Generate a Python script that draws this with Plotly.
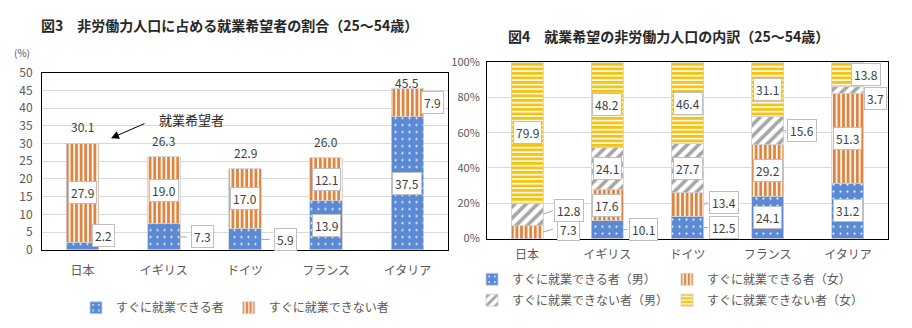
import plotly.graph_objects as go

# ---------------- data ----------------
countries = ["日本", "イギリス", "ドイツ", "フランス", "イタリア"]

# 図3 (%)
f3_able = [2.2, 7.3, 5.9, 13.9, 37.5]
f3_unable = [27.9, 19.0, 17.0, 12.1, 7.9]
f3_total = [30.1, 26.3, 22.9, 26.0, 45.5]

# 図4 (%)
f4_able_m = [0.0, 10.1, 12.5, 24.1, 31.2]
f4_able_f = [7.3, 17.6, 13.4, 29.2, 51.3]
f4_unable_m = [12.8, 24.1, 27.7, 15.6, 3.7]
f4_unable_f = [79.9, 48.2, 46.4, 31.1, 13.8]

y3_ticks = list(range(0, 51, 5))
y4_ticks = [0, 20, 40, 60, 80, 100]
y4_ticktext = ["0%", "20%", "40%", "60%", "80%", "100%"]

f3_names = ["すぐに就業できる者", "すぐに就業できない者"]
f4_names = ["すぐに就業できる者（男）", "すぐに就業できる者（女）",
            "すぐに就業できない者（男）", "すぐに就業できない者（女）"]

title3 = "図3　非労働力人口に占める就業希望者の割合（25～54歳）"
title4 = "図4　就業希望の非労働力人口の内訳（25～54歳）"
note3 = "就業希望者"

# ---------------- styles ----------------
FONT = "Noto Sans CJK JP"
TXT = "#404040"
TICK = "#595959"
GRID = "#D9D9D9"
BLUE = "#5B89D3"
ORANGE = "#DD8547"
ORANGE_BG = "#FFF6EA"
GRAY = "#A6A6A6"
YELLOW = "#F2C318"
YELLOW_BG = "#FFF8DA"
EDGE = "#D0D0D0"
BARGAP = 0.6
HALF = (1 - BARGAP) / 2

styles = {
    "blue": dict(color=BLUE, pattern=dict(shape=".", fgcolor="white", bgcolor=BLUE,
                                          size=7, solidity=0.07, fillmode="replace")),
    "orange": dict(color=ORANGE_BG, pattern=dict(shape="|", fgcolor=ORANGE, bgcolor=ORANGE_BG,
                                                 size=4.6, solidity=0.6, fillmode="replace")),
    "gray": dict(color="white", pattern=dict(shape="/", fgcolor=GRAY, bgcolor="white",
                                             size=8, solidity=0.45, fillmode="replace")),
    "yellow": dict(color=YELLOW_BG, pattern=dict(shape="-", fgcolor=YELLOW, bgcolor=YELLOW_BG,
                                                 size=4.5, solidity=0.6, fillmode="replace")),
}

xs = list(range(len(countries)))

fig = go.Figure()

# ---------- Fig 3 bars ----------
for name, vals, st in [(f3_names[0], f3_able, "blue"), (f3_names[1], f3_unable, "orange")]:
    fig.add_trace(go.Bar(
        x=xs, y=vals, name=name, xaxis="x", yaxis="y", legend="legend",
        marker=dict(**styles[st], line=dict(color=EDGE, width=0.8)),
        hoverinfo="skip",
    ))

# ---------- Fig 4 bars ----------
f4_series = [f4_able_m, f4_able_f, f4_unable_m, f4_unable_f]
f4_styles = ["blue", "orange", "gray", "yellow"]
f4_legends = ["legend2", "legend2", "legend3", "legend3"]
for name, vals, st, lg in zip(f4_names, f4_series, f4_styles, f4_legends):
    fig.add_trace(go.Bar(
        x=xs, y=vals, name=name, xaxis="x2", yaxis="y2", legend=lg,
        marker=dict(**styles[st], line=dict(color=EDGE, width=0.8)),
        hoverinfo="skip",
    ))

annotations = []
shapes = []


def box_label(xref, yref, x, y, text, yshift=0):
    annotations.append(dict(
        x=x, y=y, xref=xref, yref=yref, text=text, showarrow=False, yshift=yshift,
        xanchor="center", yanchor="middle",
        font=dict(family=FONT, size=12, color=TXT),
        bgcolor="white", bordercolor="#BFBFBF", borderwidth=1, borderpad=2,
    ))


# label placement for labels placed beside the bar: (dx in category units, yshift px, leader line)
place3 = {(0, 0): (0.26, 10, False), (0, 1): (0.48, 0, True), (0, 2): (0.50, 0, True),
          (1, 4): (0.31, 0, False)}
place4 = {(1, 0): (0.52, 3, True), (2, 0): (0.52, 4, True), (0, 1): (0.45, 0, True),
          (1, 2): (0.45, 2, True), (0, 2): (0.45, 0, True), (2, 3): (0.43, 0, True),
          (3, 4): (0.23, 0, False), (2, 4): (0.35, -9, False)}


def add_labels(series, xref, yref, place, px_x, px_y):
    for i in xs:
        base = 0.0
        for s, vals in enumerate(series):
            v = vals[i]
            if v > 0:
                mid = base + v / 2
                if (s, i) in place:
                    dx, dy, leader = place[(s, i)]
                    box_label(xref, yref, i + dx, mid, f"{v:.1f}", yshift=dy)
                    if leader:
                        shapes.append(dict(
                            type="line", xref=xref, yref=yref, layer="above",
                            x0=i + HALF, y0=mid, x1=i + dx - 16 / px_x, y1=mid + dy / px_y,
                            line=dict(color="#A6A6A6", width=1)))
                else:
                    box_label(xref, yref, i, mid, f"{v:.1f}")
            base += v


add_labels([f3_able, f3_unable], "x", "y", place3, 81.2, 3.74)
add_labels(f4_series, "x2", "y2", place4, 80.2, 1.86)

# totals above bars (fig 3)
for i, t in zip(xs, f3_total):
    annotations.append(dict(x=i, y=min(t + 4.6, 47.3), xref="x", yref="y", text=f"{t:.1f}",
                            showarrow=False, xanchor="center", yanchor="middle",
                            font=dict(family=FONT, size=12, color=TXT)))

# note + arrow
annotations.append(dict(x=1.335, y=36.9, xref="x", yref="y", text=note3, showarrow=False,
                        xanchor="center", yanchor="middle",
                        font=dict(family=FONT, size=13, color="#262626")))
annotations.append(dict(x=0.35, y=31.5, xref="x", yref="y", ax=0.78, ay=35.8,
                        axref="x", ayref="y", text="", showarrow=True,
                        arrowhead=2, arrowsize=1.6, arrowwidth=1, arrowcolor="black"))

# titles and unit
annotations.append(dict(x=229.5 / 912, y=1 - 16 / 328, xref="paper", yref="paper", text=f"<b>{title3}</b>",
                        showarrow=False, xanchor="center", yanchor="middle",
                        font=dict(family=FONT, size=14, color="#262626")))
annotations.append(dict(x=668 / 912, y=1 - 27 / 328, xref="paper", yref="paper", text=f"<b>{title4}</b>",
                        showarrow=False, xanchor="center", yanchor="middle",
                        font=dict(family=FONT, size=14, color="#262626")))
annotations.append(dict(x=22 / 912, y=1 - 45 / 328, xref="paper", yref="paper", text="(%)",
                        showarrow=False, xanchor="center", yanchor="middle",
                        font=dict(family=FONT, size=10, color=TICK)))

axis_common = dict(showline=True, linecolor="black", linewidth=1, mirror=True,
                   ticks="", fixedrange=True)

fig.update_layout(
    width=912, height=328,
    margin=dict(l=0, r=0, t=0, b=0),
    paper_bgcolor="white", plot_bgcolor="white",
    barmode="stack", bargap=BARGAP,
    font=dict(family=FONT, color=TICK),
    xaxis=dict(domain=[42 / 912, 448 / 912], range=[-0.5, 4.5], tickvals=xs, ticktext=countries,
               showgrid=False, tickfont=dict(size=12, color=TICK), ticklabelstandoff=10,
               anchor="y", **axis_common),
    yaxis=dict(domain=[75 / 328, 262 / 328], range=[0, 50], tickvals=y3_ticks,
               showgrid=True, gridcolor=GRID, tickfont=dict(size=12, color=TICK),
               ticklabelstandoff=6, anchor="x", **axis_common),
    xaxis2=dict(domain=[487 / 912, 888 / 912], range=[-0.5, 4.5], tickvals=xs, ticktext=countries,
                showgrid=False, tickfont=dict(size=12, color=TICK), ticklabelstandoff=5,
                anchor="y2", **axis_common),
    yaxis2=dict(domain=[87 / 328, 273 / 328], range=[0, 100], tickvals=y4_ticks, ticktext=y4_ticktext,
                showgrid=True, gridcolor=GRID, tickfont=dict(size=11, color=TICK),
                ticklabelstandoff=4, anchor="x2", **axis_common),
    legend=dict(orientation="h", x=235 / 912, xanchor="center", y=1 - 314 / 328, yanchor="middle",
                font=dict(family=FONT, size=12, color=TICK), bgcolor="rgba(0,0,0,0)",
                traceorder="normal"),
    legend2=dict(orientation="h", x=472 / 912, xanchor="left", y=1 - 284 / 328, yanchor="middle",
                 font=dict(family=FONT, size=12, color=TICK), bgcolor="rgba(0,0,0,0)",
                 entrywidth=150, traceorder="normal"),
    legend3=dict(orientation="h", x=472 / 912, xanchor="left", y=1 - 306 / 328, yanchor="middle",
                 font=dict(family=FONT, size=12, color=TICK), bgcolor="rgba(0,0,0,0)",
                 entrywidth=150, traceorder="normal"),
    annotations=annotations,
    shapes=shapes,
    showlegend=True,
)

fig.write_html("out.html")
